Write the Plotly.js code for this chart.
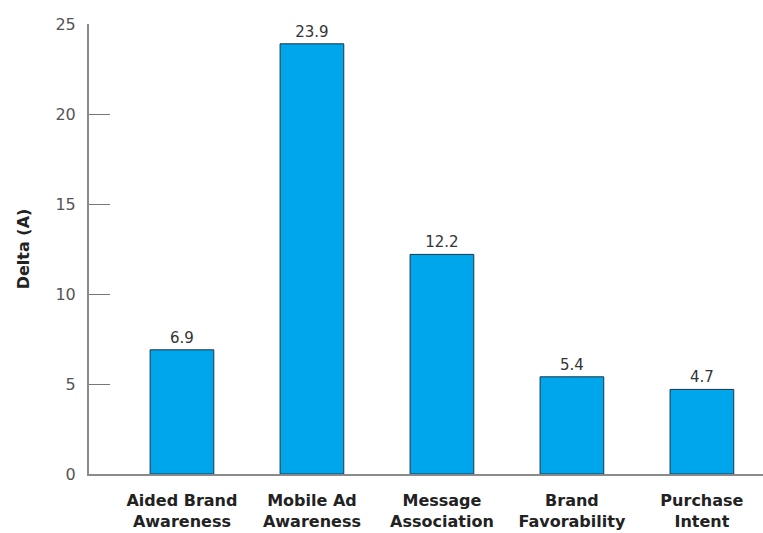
<!DOCTYPE html>
<html>
<head>
<meta charset="utf-8">
<script src="https://cdn.plot.ly/plotly-3.0.1.min.js"></script>
<style>html,body{margin:0;padding:0;background:#fff;}#chart{width:763px;height:533px;}</style>
</head>
<body>
<div id="chart"></div>
<script>
const categories = ["Aided Brand<br>Awareness", "Mobile Ad<br>Awareness", "Message<br>Association", "Brand<br>Favorability", "Purchase<br>Intent"];
const values = [6.9, 23.9, 12.2, 5.4, 4.7];
const valueLabels = ["6.9", "23.9", "12.2", "5.4", "4.7"];
const yTickVals = [0, 5, 10, 15, 20, 25];

const trace = {
  type: "bar",
  x: categories,
  y: values,
  text: valueLabels,
  textposition: "outside",
  cliponaxis: false,
  textfont: {family: "DejaVu Sans, Verdana, sans-serif", size: 15, color: "#333"},
  marker: {color: "#00A6EC", line: {color: "#1d3446", width: 1}},
  width: 0.49,
  hoverinfo: "none"
};

const layout = {
  width: 763, height: 533,
  margin: {l: 89, r: 0, t: 24, b: 59},
  paper_bgcolor: "#fff", plot_bgcolor: "#fff",
  showlegend: false,
  font: {family: "DejaVu Sans, Verdana, sans-serif", color: "#333"},
  xaxis: {
    type: "category",
    range: [-0.715, 4.47],
    showline: true, linecolor: "#8a8a8a", linewidth: 2,
    showgrid: false, zeroline: false, ticks: "",
    tickfont: {family: "DejaVu Sans, Verdana, sans-serif", size: 16, color: "#222", weight: "bold"},
    ticklabelstandoff: 11
  },
  yaxis: {
    range: [0, 25],
    tickvals: yTickVals,
    showline: true, linecolor: "#8a8a8a", linewidth: 2,
    showgrid: false, zeroline: false,
    ticks: "inside", ticklen: 21, tickcolor: "#777", tickwidth: 1,
    tickfont: {family: "DejaVu Sans, Verdana, sans-serif", size: 16, color: "#555"},
    ticklabelstandoff: 8,
    title: {text: "Delta (A)", font: {family: "DejaVu Sans, Verdana, sans-serif", size: 16, color: "#222", weight: "bold"}, standoff: 22}
  }
};

Plotly.newPlot("chart", [trace], layout, {displayModeBar: false, staticPlot: true});
</script>
</body>
</html>
